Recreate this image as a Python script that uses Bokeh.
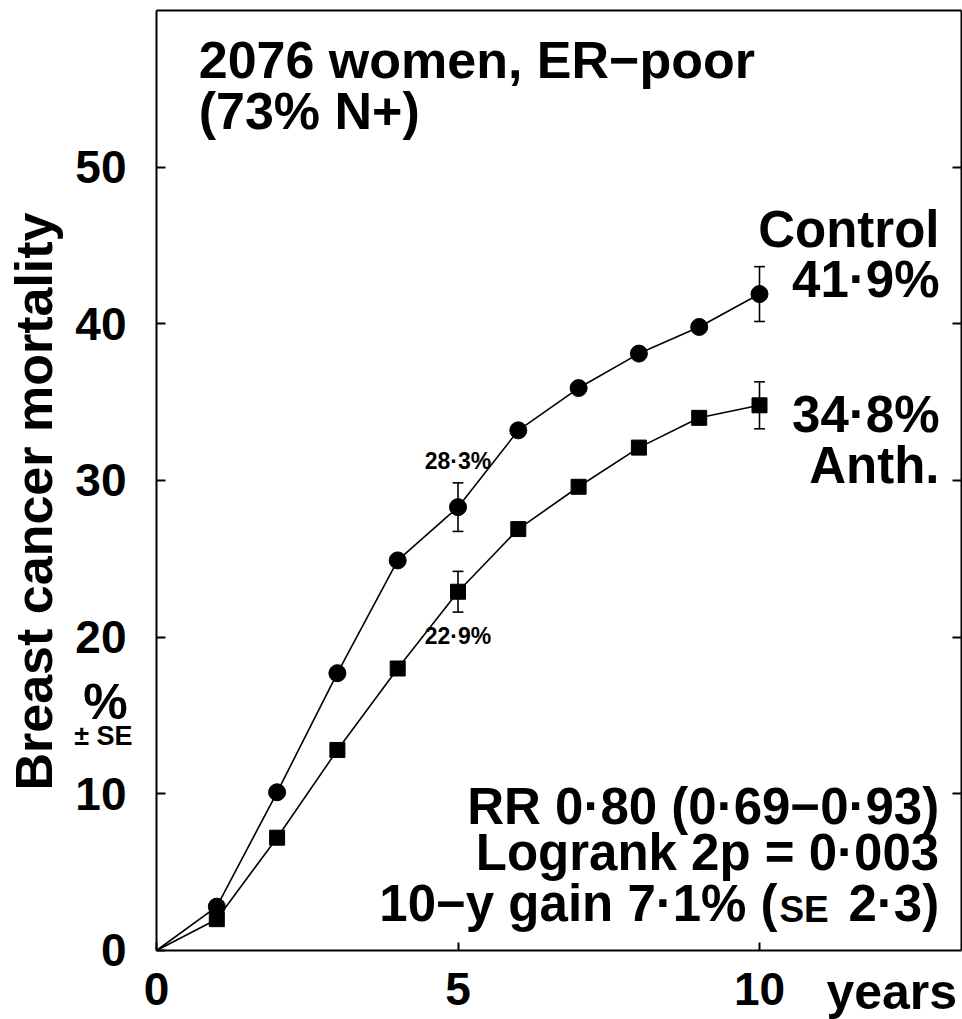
import math
from bokeh.plotting import figure
from bokeh.models import Range1d, LinearAxis, FixedTicker, Label
from bokeh.embed import file_html
from bokeh.resources import INLINE

# Breast cancer mortality (%) by year since randomisation, ER-poor women
years = [0, 1, 2, 3, 4, 5, 6, 7, 8, 9, 10]
control = [0.0, 2.8, 10.1, 17.7, 24.9, 28.3, 33.2, 35.9, 38.1, 39.8, 41.9]
anth = [0.0, 2.0, 7.2, 12.8, 18.0, 22.9, 26.9, 29.6, 32.1, 34.0, 34.8]

# standard errors shown at 5 and 10 years
se_years = [5, 10]
control_se = [1.55, 1.75]
anth_se = [1.3, 1.5]

x_ticks = [0, 5, 10]
y_ticks = [0, 10, 20, 30, 40, 50]
X_MAX = 13.35
Y_MAX = 60

FONT = "Liberation Sans"
BLACK = "black"

# The plotting area spans the whole canvas; the axes are pinned to the
# box (0..X_MAX, 0..Y_MAX) so that margin texts can sit beside them.
p = figure(width=962, height=1019,
           x_range=Range1d(-2.5871, 13.3665), y_range=Range1d(-4.4043, 60.6383),
           output_backend="svg", toolbar_location=None, tools="",
           min_border=0)
p.background_fill_color = "white"
p.border_fill_color = "white"
p.outline_line_color = None
p.grid.visible = False


def style_axis(ax, ticks, tick_in, labelled=True):
    ax.ticker = FixedTicker(ticks=ticks)
    ax.axis_line_width = 2
    ax.axis_line_color = BLACK
    ax.major_tick_in = tick_in
    ax.major_tick_out = 0
    ax.major_tick_line_width = 2
    ax.major_tick_line_color = BLACK
    ax.minor_tick_in = 0
    ax.minor_tick_out = 0
    if labelled:
        ax.major_label_text_font = FONT
        ax.major_label_text_font_style = "bold"
        ax.major_label_text_font_size = "46px"
        ax.major_label_text_color = BLACK
    else:
        ax.major_label_overrides = {t: "" for t in ticks}
        ax.major_label_text_color = None


left = p.yaxis[0]
style_axis(left, y_ticks, 9)
left.fixed_location = 0
left.bounds = (0, Y_MAX)
left.major_label_standoff = 30

bottom = p.xaxis[0]
style_axis(bottom, x_ticks, 8)
bottom.fixed_location = 0
bottom.bounds = (0, X_MAX)
bottom.major_label_standoff = 23

right = LinearAxis()
style_axis(right, y_ticks[1:], 9, labelled=False)
right.fixed_location = X_MAX
right.bounds = (0, Y_MAX)
p.add_layout(right, "right")

top = LinearAxis()
style_axis(top, [], 0, labelled=False)
top.fixed_location = Y_MAX
top.bounds = (0, X_MAX)
p.add_layout(top, "above")

# curves start at the origin; markers at yearly points
p.line(years, control, line_color=BLACK, line_width=1.6)
p.line(years, anth, line_color=BLACK, line_width=1.6)
p.scatter(years[1:], control[1:], marker="circle", size=17,
          fill_color=BLACK, line_color=BLACK)
p.scatter(years[1:], anth[1:], marker="square", size=15,
          fill_color=BLACK, line_color=BLACK)

# error bars (+/- SE)
cap = 0.09
for series, ses in ((control, control_se), (anth, anth_se)):
    for yr, se in zip(se_years, ses):
        yv = series[years.index(yr)]
        p.segment(x0=[yr], y0=[yv - se], x1=[yr], y1=[yv + se],
                  line_color=BLACK, line_width=1.6)
        p.segment(x0=[yr - cap, yr - cap], y0=[yv - se, yv + se],
                  x1=[yr + cap, yr + cap], y1=[yv - se, yv + se],
                  line_color=BLACK, line_width=1.6)

PX_X = 60.3      # pixels per year
PX_Y = 15.6667   # pixels per percentage point
SHIFT = 0.38     # baseline lift, in em


def pct(v):
    return f"{v:.1f}".replace(".", "\u00b7") + "%"


def lab(x, y, text, size, align="left"):
    p.add_layout(Label(x=x, y=y + SHIFT * size / PX_Y, text=text,
                       text_font=FONT, text_font_style="bold",
                       text_font_size=f"{size}px", text_color=BLACK,
                       text_align=align, text_baseline="alphabetic"))


i5 = years.index(5)
i10 = years.index(10)

lab(0.70, 55.6, "2076 women, ER\u2212poor", 52)
lab(0.70, 52.3, "(73% N+)", 52)

lab(12.985, 44.8, "Control", 51, align="right")
lab(12.985, 41.6, pct(control[i10]), 51, align="right")
lab(12.985, 32.98, pct(anth[i10]), 51, align="right")
lab(12.985, 29.74, "Anth.", 51, align="right")

lab(5.0, 30.68, pct(control[i5]), 23, align="center")
lab(5.0, 19.53, pct(anth[i5]), 23, align="center")

lab(12.98, 7.95, "RR 0\u00b780 (0\u00b769\u22120\u00b793)", 51, align="right")
lab(12.98, 5.0, "Logrank 2p = 0\u00b7003", 51, align="right")
lab(10.30, 1.75, "10\u2212y gain 7\u00b71% (", 51, align="right")
lab(10.74, 1.75, "SE", 37, align="center")
lab(12.98, 1.75, "2\u00b73)", 51, align="right")

# y-axis title (reads upwards) and unit
title_size = 52
p.add_layout(Label(x=-1.708 - SHIFT * title_size / PX_X, y=28.66,
                   text="Breast cancer mortality", text_font=FONT,
                   text_font_style="bold", text_font_size=f"{title_size}px",
                   text_color=BLACK, text_align="center",
                   text_baseline="alphabetic", angle=math.pi / 2))
lab(-0.846, 14.62, "%", 50, align="center")
lab(-0.88, 13.02, "\u00b1 SE", 27, align="center")

lab(11.11, -3.89, "years", 50)

open("out.html", "w").write(file_html(p, INLINE))
